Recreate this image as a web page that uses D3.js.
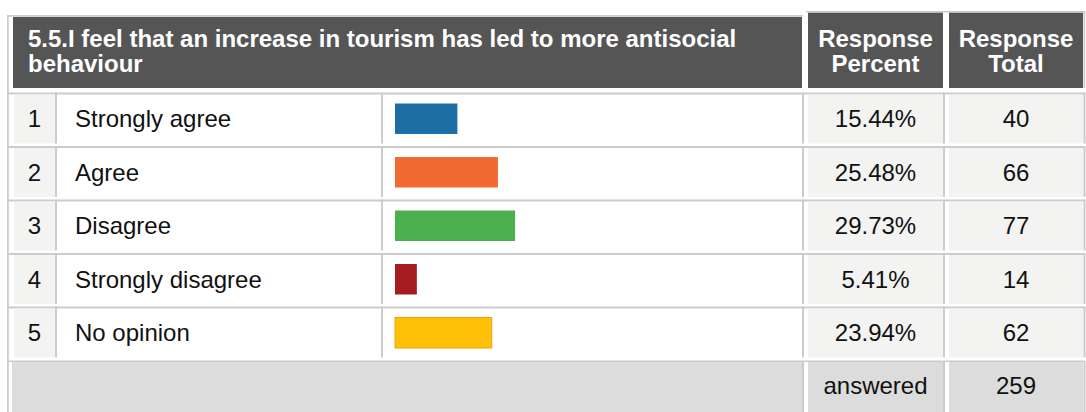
<!DOCTYPE html>
<html>
<head>
<meta charset="utf-8">
<script src="https://cdn.jsdelivr.net/npm/d3@7"></script>
<style>
  html, body { margin: 0; padding: 0; background: #ffffff; }
  svg { display: block; font-family: "Liberation Sans", Arial, Helvetica, sans-serif; }
</style>
</head>
<body>
<svg id="chart" width="1086" height="412"></svg>
<script>
const questionLines = ["5.5.I feel that an increase in tourism has led to more antisocial", "behaviour"];
const headerPercent = ["Response", "Percent"];
const headerTotal = ["Response", "Total"];
const rowNumbers = ["1", "2", "3", "4", "5"];
const categories = ["Strongly agree", "Agree", "Disagree", "Strongly disagree", "No opinion"];
const percents = [15.44, 25.48, 29.73, 5.41, 23.94];
const totals = [40, 66, 77, 14, 62];
const barColors = ["#1c6ea4", "#f16a34", "#4caf50", "#a51b1f", "#ffc107"];
const barStrokes = [null, null, null, null, "#f2a10a"];
const footerLabel = "answered";
const answeredTotal = 259;

const svg = d3.select("#chart");
const FS = 24;
const lineCol = "#cccccc";
const greyCell = "#f3f3f1";
const footGrey = "#dcdcdc";
const headCol = "#555555";
const textCol = "#111111";

// column geometry
const cols = {
  num: [14, 55], label: [58, 381], bar: [385, 802], pct: [806, 943], tot: [947, 1083]
};

// scales
const rowY = d3.scaleLinear().domain([0, 5]).range([94.5, 362]);
const rowH = 49;
const x = d3.scaleLinear().domain([0, 100]).range([0, 404]);
const barX0 = 395;

// outer left line
svg.append("rect").attr("x", 7).attr("y", 15).attr("width", 1.8).attr("height", 397).attr("fill", lineCol);

// header
svg.append("rect").attr("x", 8).attr("y", 15).attr("width", 795).attr("height", 1.8).attr("fill", lineCol);
svg.append("rect").attr("x", 13).attr("y", 17).attr("width", 789).attr("height", 71).attr("fill", headCol);
svg.append("rect").attr("x", 806).attr("y", 11).attr("width", 279).attr("height", 1.5).attr("fill", lineCol);
svg.append("rect").attr("x", 808).attr("y", 12.7).attr("width", 135).attr("height", 75.3).attr("fill", headCol);
svg.append("rect").attr("x", 949).attr("y", 12.7).attr("width", 134).attr("height", 75.3).attr("fill", headCol);
svg.append("rect").attr("x", 1083.5).attr("y", 12).attr("width", 1.8).attr("height", 76).attr("fill", lineCol);

const qText = svg.append("text").attr("x", 28).attr("fill", "#ffffff")
  .attr("font-weight", "bold").attr("font-size", FS);
qText.selectAll("tspan").data(questionLines).join("tspan")
  .attr("x", 28).attr("y", (d, i) => 46.5 + i * 25.3).text(d => d);

function headerCenter(lines, cx) {
  const t = svg.append("text").attr("fill", "#ffffff").attr("font-weight", "bold")
    .attr("font-size", FS).attr("text-anchor", "middle");
  t.selectAll("tspan").data(lines).join("tspan")
    .attr("x", cx).attr("y", (d, i) => 46.5 + i * 25.3).text(d => d);
}
headerCenter(headerPercent, 875.5);
headerCenter(headerTotal, 1016);

// rows
const rows = svg.append("g").selectAll("g").data(categories).join("g");

// top border per row
rows.append("rect").attr("x", 8).attr("y", (d, i) => rowY(i) - 2)
  .attr("width", 1077).attr("height", 2).attr("fill", lineCol);

// cell backgrounds
rows.append("rect").attr("x", cols.num[0]).attr("y", (d, i) => rowY(i))
  .attr("width", cols.num[1] - cols.num[0]).attr("height", rowH).attr("fill", greyCell);
rows.append("rect").attr("x", cols.pct[0] + 2).attr("y", (d, i) => rowY(i))
  .attr("width", cols.pct[1] - cols.pct[0] - 2).attr("height", rowH).attr("fill", greyCell);
rows.append("rect").attr("x", cols.tot[0] + 2).attr("y", (d, i) => rowY(i))
  .attr("width", cols.tot[1] - cols.tot[0] - 2).attr("height", rowH).attr("fill", greyCell);

// vertical separators
[55, 381, 802, 943, 1083.5].forEach(vx => {
  rows.append("rect").attr("x", vx).attr("y", (d, i) => rowY(i) - 2)
    .attr("width", 2).attr("height", rowH + 2).attr("fill", lineCol);
});

// bars
rows.append("rect")
  .attr("x", barX0)
  .attr("y", (d, i) => rowY(i) + 9)
  .attr("width", (d, i) => x(percents[i]))
  .attr("height", 30.5)
  .attr("fill", (d, i) => barColors[i])
  .attr("stroke", (d, i) => barStrokes[i] || "none")
  .attr("stroke-width", 1);

// texts
rows.append("text").attr("x", 34.5).attr("y", (d, i) => rowY(i) + 32.5)
  .attr("text-anchor", "middle").attr("font-size", FS).attr("fill", textCol)
  .text((d, i) => rowNumbers[i]);
rows.append("text").attr("x", 75).attr("y", (d, i) => rowY(i) + 32.5)
  .attr("font-size", FS).attr("fill", textCol).text(d => d);
rows.append("text").attr("x", 875.5).attr("y", (d, i) => rowY(i) + 32.5)
  .attr("text-anchor", "middle").attr("font-size", FS).attr("fill", textCol)
  .text((d, i) => percents[i].toFixed(2) + "%");
rows.append("text").attr("x", 1016).attr("y", (d, i) => rowY(i) + 32.5)
  .attr("text-anchor", "middle").attr("font-size", FS).attr("fill", textCol)
  .text((d, i) => totals[i]);

// footer
const fy = rowY(5);
svg.append("rect").attr("x", 8).attr("y", fy - 1.5).attr("width", 1077).attr("height", 1.5).attr("fill", lineCol);
svg.append("rect").attr("x", 12).attr("y", fy).attr("width", 790).attr("height", 412 - fy).attr("fill", footGrey);
svg.append("rect").attr("x", 802).attr("y", fy - 1).attr("width", 2).attr("height", 412 - fy + 1).attr("fill", lineCol);
svg.append("rect").attr("x", 808).attr("y", fy).attr("width", 135).attr("height", 412 - fy).attr("fill", footGrey);
svg.append("rect").attr("x", 943).attr("y", fy - 1).attr("width", 2).attr("height", 412 - fy + 1).attr("fill", lineCol);
svg.append("rect").attr("x", 949).attr("y", fy).attr("width", 134).attr("height", 412 - fy).attr("fill", footGrey);
svg.append("rect").attr("x", 1083.5).attr("y", fy - 1).attr("width", 2).attr("height", 412 - fy + 1).attr("fill", lineCol);
svg.append("text").attr("x", 875.5).attr("y", fy + 32.3).attr("text-anchor", "middle")
  .attr("font-size", FS).attr("fill", textCol).text(footerLabel);
svg.append("text").attr("x", 1016).attr("y", fy + 32.3).attr("text-anchor", "middle")
  .attr("font-size", FS).attr("fill", textCol).text(answeredTotal);
</script>
</body>
</html>
